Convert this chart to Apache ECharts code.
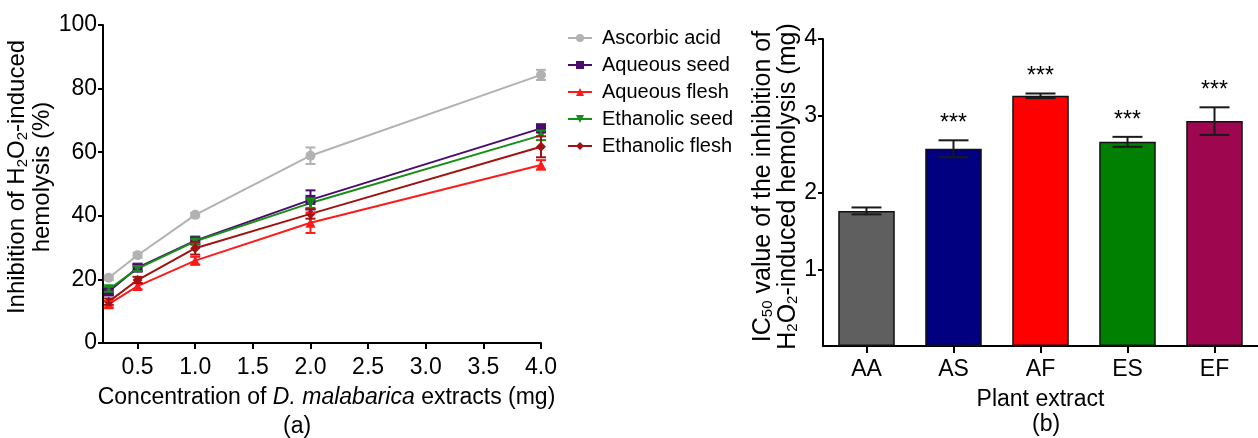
<!DOCTYPE html>
<html>
<head>
<meta charset="utf-8">
<script src="https://cdn.jsdelivr.net/npm/echarts@6/dist/echarts.min.js"></script>
<style>
  html, body { margin: 0; padding: 0; background: #fff; }
  #chart { width: 1258px; height: 438px; }
</style>
</head>
<body>
<div id="chart"></div>
<script>
// ---- (a) inhibition of H2O2-induced hemolysis ----
const concentrations = [0.25, 0.5, 1.0, 2.0, 4.0];
const xTickValues = [0.5, 1.0, 1.5, 2.0, 2.5, 3.0, 3.5, 4.0];

const ascorbicAcid = [20.5, 27.6, 40.3, 58.9, 84.3];
const ascorbicAcidErr = [0.7, 0.8, 0.6, 2.6, 1.6];
const aqueousSeed = [16.2, 23.7, 32.2, 45.0, 67.5];
const aqueousSeedErr = [1.0, 1.0, 1.0, 3.0, 1.2];
const aqueousFlesh = [12.2, 17.9, 25.9, 37.8, 56.0];
const aqueousFleshErr = [1.0, 1.0, 1.2, 3.2, 1.5];
const ethanolicSeed = [16.9, 23.4, 32.0, 44.0, 65.3];
const ethanolicSeedErr = [0.8, 0.8, 0.8, 1.5, 1.5];
const ethanolicFlesh = [13.0, 19.8, 29.8, 40.6, 61.7];
const ethanolicFleshErr = [1.0, 1.0, 2.0, 1.5, 3.3];

// ---- (b) IC50 values ----
const extracts = ['AA', 'AS', 'AF', 'ES', 'EF'];
const ic50 = [1.76, 2.57, 3.26, 2.66, 2.93];
const ic50Err = [0.045, 0.11, 0.03, 0.065, 0.18];
const significance = ['', '***', '***', '***', '***'];
const barColors = ['#5f5f5f', '#000080', '#ff0000', '#008000', '#9e0650'];

const FONT = 'Liberation Sans, Arial, sans-serif';

const lineSeries = [
  {name: 'Ascorbic acid', data: ascorbicAcid, err: ascorbicAcidErr, color: '#b2b2b2', symbol: 'circle', size: 10},
  {name: 'Aqueous seed', data: aqueousSeed, err: aqueousSeedErr, color: '#4a0c6c', symbol: 'rect', size: 10},
  {name: 'Aqueous flesh', data: aqueousFlesh, err: aqueousFleshErr, color: '#ff1a1a', symbol: 'triangle', size: 10},
  {name: 'Ethanolic seed', data: ethanolicSeed, err: ethanolicSeedErr, color: '#178f17', symbol: 'triangle', size: 10, rotate: 180},
  {name: 'Ethanolic flesh', data: ethanolicFlesh, err: ethanolicFleshErr, color: '#a01212', symbol: 'diamond', size: 10}
];

// vertical error bar with caps
const errorBar = (color, capHalf, width) => (params, api) => {
  const x = api.value(0);
  const hi = api.coord([x, api.value(2)]);
  const lo = api.coord([x, api.value(1)]);
  const style = {stroke: color, lineWidth: width};
  return {
    type: 'group',
    children: [
      {type: 'line', shape: {x1: hi[0], y1: hi[1], x2: lo[0], y2: lo[1]}, style},
      {type: 'line', shape: {x1: hi[0] - capHalf, y1: hi[1], x2: hi[0] + capHalf, y2: hi[1]}, style},
      {type: 'line', shape: {x1: lo[0] - capHalf, y1: lo[1], x2: lo[0] + capHalf, y2: lo[1]}, style}
    ]
  };
};

const series = [];
lineSeries.forEach(s => {
  series.push({
    name: s.name,
    type: 'line',
    xAxisIndex: 0,
    yAxisIndex: 0,
    data: concentrations.map((c, i) => [c, s.data[i]]),
    symbol: s.symbol,
    symbolSize: s.size,
    symbolRotate: s.rotate || 0,
    color: s.color,
    lineStyle: {width: 2, color: s.color},
    itemStyle: {color: s.color},
    z: 3
  });
  series.push({
    type: 'custom',
    xAxisIndex: 0,
    yAxisIndex: 0,
    data: concentrations.map((c, i) => [c, s.data[i] - s.err[i], s.data[i] + s.err[i]]),
    renderItem: errorBar(s.color, 5, 2),
    z: 4
  });
});

series.push({
  type: 'bar',
  xAxisIndex: 1,
  yAxisIndex: 1,
  data: ic50.map((v, i) => ({value: v, itemStyle: {color: barColors[i]}})),
  barWidth: '65%',
  itemStyle: {borderColor: '#111', borderWidth: 1.5}
});
series.push({
  type: 'custom',
  xAxisIndex: 1,
  yAxisIndex: 1,
  data: ic50.map((v, i) => [i, v - ic50Err[i], v + ic50Err[i]]),
  renderItem: (params, api) => {
    const g = errorBar('#1a1a1a', 15, 2)(params, api);
    const hi = api.coord([api.value(0), api.value(2)]);
    g.children.push({
      type: 'text',
      x: hi[0],
      y: hi[1] - 5,
      style: {
        text: significance[params.dataIndex],
        fontSize: 23,
        fontFamily: FONT,
        fill: '#000',
        align: 'center',
        verticalAlign: 'bottom'
      }
    });
    return g;
  },
  z: 5
});

const axisLine = {show: true, lineStyle: {color: '#000', width: 2}};
const tickStyle = {lineStyle: {color: '#000', width: 2}};
const labelStyle = {color: '#000', fontSize: 23, fontFamily: FONT};
const nameStyle = {color: '#000', fontSize: 23, fontFamily: FONT};
// rich styles for subscripts / italics in axis names
const makeRich = size => ({
  n: {fontSize: size, fontFamily: FONT, color: '#000', lineHeight: 25},
  s: {fontSize: 15, fontFamily: FONT, color: '#000', lineHeight: 13, verticalAlign: 'bottom'},
  i: {fontSize: 23, fontFamily: FONT, color: '#000', fontStyle: 'italic'}
});

const chart = echarts.init(document.getElementById('chart'));
chart.setOption({
  animation: false,
  backgroundColor: '#fff',
  textStyle: {fontFamily: FONT},
  title: [
    {text: '(a)', left: 283, top: 415, padding: 0, textStyle: {...nameStyle, fontWeight: 'normal'}},
    {text: '(b)', left: 1032, top: 413, padding: 0, textStyle: {...nameStyle, fontWeight: 'normal'}}
  ],
  legend: {
    data: lineSeries.map(s => s.name),
    orient: 'vertical',
    left: 562,
    top: 23,
    itemWidth: 24,
    itemHeight: 10,
    itemGap: 7,
    textStyle: {color: '#000', fontSize: 20, fontFamily: FONT, padding: [0, 0, 0, 5]}
  },
  grid: [
    {left: 103, right: 717, top: 25, bottom: 95},
    {left: 823, right: -7, top: 39, bottom: 92}
  ],
  xAxis: [
    {
      type: 'value',
      gridIndex: 0,
      min: 0.2,
      max: 4.0,
      splitLine: {show: false},
      axisLine,
      axisTick: {show: true, length: 6, customValues: xTickValues, ...tickStyle},
      axisLabel: {...labelStyle, margin: 13, customValues: xTickValues, formatter: v => v.toFixed(1)},
      name: 'Concentration of {i|D. malabarica} extracts (mg)',
      nameLocation: 'middle',
      nameGap: 43,
      nameTextStyle: {...nameStyle, padding: [0, 0, 0, 9], rich: makeRich(23)}
    },
    {
      type: 'category',
      gridIndex: 1,
      data: extracts,
      axisLine,
      axisTick: {show: true, length: 7, alignWithLabel: true, ...tickStyle},
      axisLabel: {...labelStyle, margin: 12},
      name: 'Plant extract',
      nameLocation: 'middle',
      nameGap: 42,
      nameTextStyle: {...nameStyle}
    }
  ],
  yAxis: [
    {
      type: 'value',
      gridIndex: 0,
      min: 0,
      max: 100,
      interval: 20,
      splitLine: {show: false},
      axisLine,
      axisTick: {show: true, length: 5, ...tickStyle},
      axisLabel: {...labelStyle, margin: 6},
      name: '{n|Inhibition of H}{s|2}{n|O}{s|2}{n|-induced}\n{n|hemolysis (%)}',
      nameLocation: 'middle',
      nameGap: 40,
      nameTextStyle: {...nameStyle, align: 'center', padding: [0, 0, 0, 14], rich: makeRich(24)}
    },
    {
      type: 'value',
      gridIndex: 1,
      min: 0,
      max: 4,
      interval: 1,
      splitLine: {show: false},
      axisLine,
      axisTick: {show: true, length: 5, ...tickStyle},
      axisLabel: {...labelStyle, margin: 6, showMinLabel: false, formatter: v => (v === 0 ? '' : v)},
      name: '{n|IC}{s|50}{n| value of the inhibition of}\n{n|H}{s|2}{n|O}{s|2}{n|-induced hemolysis (mg)}',
      nameLocation: 'middle',
      nameGap: 18,
      nameTextStyle: {...nameStyle, align: 'center', padding: [0, 0, 0, 12], rich: makeRich(25)}
    }
  ],
  series
});
</script>
</body>
</html>
